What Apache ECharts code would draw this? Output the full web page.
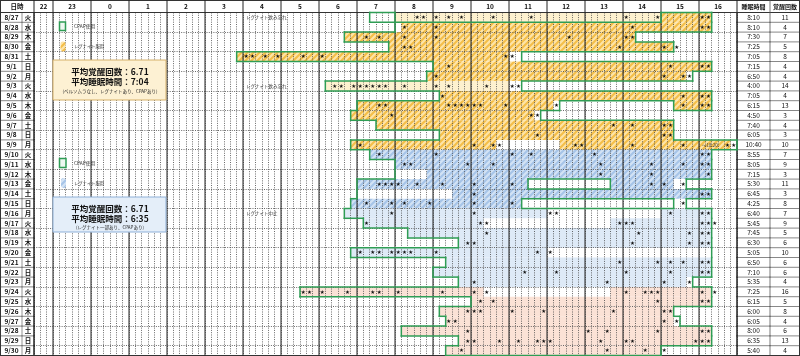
<!DOCTYPE html>
<html>
<head>
<meta charset="utf-8">
<script src="https://cdn.jsdelivr.net/npm/echarts@6/dist/echarts.min.js"></script>
<style>
  html, body { margin: 0; padding: 0; background: #fff; }
  #chart { width: 800px; height: 356px; }
</style>
</head>
<body>
<div id="chart"></div>
<script>
const dates = ['8/27','8/28','8/29','8/30','8/31','9/1','9/2','9/3','9/4','9/5','9/6','9/7','9/8','9/9',
  '9/10','9/11','9/12','9/13','9/14','9/15','9/16','9/17','9/18','9/19','9/20','9/21','9/22','9/23',
  '9/24','9/25','9/26','9/27','9/28','9/29','9/30'];
const weekdays = ['火','水','木','金','土','日','月','火','水','木','金','土','日','月',
  '火','水','木','金','土','日','月','火','水','木','金','土','日','月',
  '火','水','木','金','土','日','月'];
const hourLabels = ['22','23','0','1','2','3','4','5','6','7','8','9','10','11','12','13','14','15','16'];
const sleepTimes = ['8:10','8:10','7:30','7:25','7:05','7:15','6:50','4:00','7:05','6:15','4:50','7:40','6:05','10:40',
  '8:55','8:05','7:15','5:30','6:45','4:25','6:40','5:45','7:45','6:30','5:05','6:50','7:10','5:35',
  '7:25','6:15','6:00','6:05','8:00','6:35','5:40'];
const wakeCounts = [11,4,7,5,8,4,4,14,4,13,3,4,3,10, 7,9,3,11,3,8,7,9,5,6,10,6,6,4, 16,5,8,4,6,13,4];

// sleep segments: [row, start, end, kind]  yh=Regnite, yl=forgot, bh/bl=blue period, p=pink period
const fillSegs = [
  [0,'8:00','15:00','yl'], [0,'15:00','16:20','yh'],
  [1,'8:10','16:20','yh'], [2,'6:40','14:20','yh'], [3,'7:50','15:20','yh'],
  [4,'3:50','11:00','yh'], [5,'9:00','16:20','yh'], [6,'8:50','15:40','yh'],
  [7,'6:10','11:00','yl'], [8,'9:10','16:20','yh'],
  [9,'7:00','12:10','yh'], [9,'15:20','16:20','yh'],
  [10,'6:50','11:40','yh'], [11,'7:30','15:20','yh'], [12,'9:10','15:20','yh'],
  [13,'6:50','10:40','yh'], [13,'12:20','16:50','yh'],
  [14,'7:20','16:20','bh'], [15,'8:00','16:20','bh'], [16,'8:50','16:20','bh'],
  [17,'7:00','11:30','bh'], [17,'13:40','15:20','bh'],
  [18,'9:30','16:20','bh'], [19,'6:50','11:20','bh'],
  [20,'6:40','12:00','bl'], [20,'15:00','16:20','bl'],
  [21,'7:10','10:20','bl'], [21,'13:40','16:20','bl'],
  [22,'8:20','16:20','bl'], [23,'9:40','16:20','bl'], [24,'6:50','12:00','bl'],
  [25,'9:20','16:20','bl'], [26,'9:00','16:20','bl'], [27,'9:40','15:40','bl'],
  [28,'5:30','10:20','p'], [28,'13:40','16:20','p'],
  [29,'10:00','16:20','p'], [30,'9:10','15:20','p'], [31,'9:20','15:20','p'],
  [32,'8:10','16:20','p'], [33,'9:40','16:20','p'], [34,'9:20','15:00','p']
];

// CPAP use: [row, start, end]
const cpapSegs = [
  [0,'7:20','8:00'], [0,'15:00','16:20'], [1,'8:00','16:20'], [2,'6:40','14:20'], [3,'7:50','15:20'],
  [4,'3:50','11:20'], [5,'9:00','16:20'], [6,'8:50','15:50'], [7,'6:10','11:20'], [8,'9:10','16:20'],
  [9,'7:00','12:20'], [9,'15:20','16:20'], [10,'6:50','11:50'], [11,'7:30','15:20'], [12,'9:10','15:20'],
  [13,'6:50','17:00'], [14,'7:20','16:20'], [15,'8:00','16:20'], [16,'8:00','16:20'],
  [17,'7:00','11:30'], [17,'13:40','15:40'], [18,'7:00','16:20'],
  [19,'6:50','11:20'], [19,'15:20','15:40'], [20,'6:40','16:20'], [21,'7:10','16:20'],
  [22,'8:20','16:20'], [23,'9:40','16:20'], [24,'6:50','16:20'], [25,'9:20','16:20'],
  [26,'9:00','16:20'], [27,'9:40','15:50'], [28,'5:30','16:20'], [29,'10:00','16:20'],
  [30,'9:10','15:20'], [31,'9:20','15:30'], [32,'8:10','16:20'], [33,'9:40','16:20'], [34,'9:20','15:00']
];

// awakenings (start of the 10-minute cell holding the star)
const wakeMarks = [
  ['8:30','8:40','9:00','9:20','9:40','10:30','11:30','14:00','14:50','16:00','16:10'],
  ['8:10','9:00','14:10','16:00','16:10'],
  ['7:10','7:30','8:10','9:00','12:30','14:00','14:10'],
  ['8:10','8:20','13:50','15:00','15:20'],
  ['4:00','4:10','4:30','4:50','5:30','6:00','10:50','11:00'],
  ['9:20','15:10','16:00','16:10'],
  ['9:00','15:00','15:30','15:40'],
  ['6:20','6:30','6:50','7:00','7:10','7:20','7:30','7:40','8:10','9:00','9:20','10:20','11:00','11:10'],
  ['9:10','15:30','16:00','16:10'],
  ['7:30','7:40','9:20','9:30','9:40','9:50','10:00','10:10','10:50','12:10','15:30','16:00','16:10'],
  ['7:50','11:30','11:40'],
  ['13:40','14:10','15:00','15:10'],
  ['11:40','15:00','15:10'],
  ['7:00','10:00','10:30','10:40','12:40','12:50','14:10','15:30','16:40','16:50'],
  ['7:30','9:00','11:00','11:30','13:10','16:00','16:10'],
  ['8:10','8:20','9:50','10:30','13:20','14:40','15:30','16:00','16:10'],
  ['13:20','14:40','16:10'],
  ['7:30','7:40','7:50','8:00','8:30','9:10','10:00','11:00','14:40','15:00','15:30'],
  ['10:00','16:00','16:10'],
  ['7:10','7:50','8:10','8:50','10:00','11:00','15:30'],
  ['7:50','10:00','12:00','12:10','15:10','16:00','16:10'],
  ['7:10','10:10','10:20','13:50','14:00','14:10','16:00','16:10','16:20'],
  ['10:20','14:20','15:40','16:00','16:10'],
  ['9:50','10:00','14:10','15:40','16:00','16:10'],
  ['7:00','7:20','7:30','7:50','8:00','8:10','8:20','9:00','11:40','12:00'],
  ['13:50','14:50','15:10','15:30','16:00','16:10'],
  ['11:20','12:10','14:00','15:10','16:00','16:10'],
  ['10:00','13:30','15:00','15:40'],
  ['5:30','5:40','6:00','6:40','7:20','7:30','8:00','9:10','10:00','10:20','14:00','14:30','14:40','14:50','16:00','16:20'],
  ['10:10','10:30','14:50','16:00','16:10'],
  ['9:50','10:00','10:10','11:00','11:50','13:40','15:00','15:10'],
  ['9:20','9:30','15:00','15:20'],
  ['9:50','13:00','13:30','14:50','16:00','16:10'],
  ['9:50','10:00','10:40','11:10','11:40','11:50','12:00','13:20','14:00','14:10','15:50','16:00','16:10'],
  ['9:40','13:30','14:30','15:00']
];

const notes = [[0,'4:00','レグナイト飲み忘れ'], [7,'4:00','レグナイト飲み忘れ'], [20,'4:00','レグナイト中止'], [13,'16:00','〜18:20']];

// ---- helpers ----
const FONT = "'Noto Sans CJK JP', 'Noto Sans', sans-serif";
function toMin(t) {
  const [h, m] = t.split(':').map(Number);
  return ((h < 20 ? h + 24 : h) - 22) * 60 + m;
}
const X_MIN = toMin('22:30');
const X_MAX = toMin('17:00');
const NCELL = (X_MAX - X_MIN) / 10;
const HEAD = 12.5;

function hatch(base, stripe) {
  const s = 6;
  const c = document.createElement('canvas');
  c.width = s; c.height = s;
  const g = c.getContext('2d');
  g.fillStyle = base; g.fillRect(0, 0, s, s);
  g.strokeStyle = stripe; g.lineWidth = 2;
  g.beginPath();
  g.moveTo(-1, s + 1); g.lineTo(s + 1, -1);
  g.moveTo(-1, 1); g.lineTo(1, -1);
  g.moveTo(s - 1, s + 1); g.lineTo(s + 1, s - 1);
  g.stroke();
  return { image: c, repeat: 'repeat' };
}
const kinds = ['yh', 'yl', 'bh', 'bl', 'p'];
const kindFill = [
  hatch('#fde4a8', '#f4be48'),
  '#fdf1cf',
  hatch('#d2e2f4', '#a6c4e8'),
  '#deeaf7',
  '#fbe2d6'
];

// CPAP coverage in 10-minute cells, for the merged outline
const cover = dates.map(() => new Array(NCELL).fill(false));
cpapSegs.forEach(([r, s, e]) => {
  for (let c = (toMin(s) - X_MIN) / 10; c < (toMin(e) - X_MIN) / 10; c++) cover[r][c] = true;
});

function runs(test) {
  const out = [];
  let st = -1;
  for (let c = 0; c <= NCELL; c++) {
    const on = c < NCELL && test(c);
    if (on && st < 0) st = c;
    if (!on && st >= 0) { out.push([st, c]); st = -1; }
  }
  return out;
}
const GREEN = '#2f9d55';
function ln(x1, y1, x2, y2, stroke, w, dash) {
  return { type: 'line', shape: { x1, y1, x2, y2 }, style: { stroke, lineWidth: w, lineDash: dash || null, lineCap: 'square' } };
}
function txt(x, y, text, size, opts) {
  return { type: 'text', x, y, style: Object.assign({ text, fontSize: size, fontFamily: FONT, fill: '#111',
    align: 'center', verticalAlign: 'middle', textAlign: 'center', textVerticalAlign: 'middle' }, opts || {}) };
}

const chart = echarts.init(document.getElementById('chart'));

const dotted = { type: [1, 1.3], color: '#444', width: 0.8 };
const option = {
  animation: false,
  grid: { left: 34, right: 63, top: HEAD, bottom: 0.5 },
  xAxis: {
    type: 'value', min: X_MIN, max: X_MAX, interval: 10,
    axisLabel: { show: false }, axisTick: { show: false }, axisLine: { show: false },
    splitLine: { show: true, lineStyle: dotted }
  },
  yAxis: {
    type: 'category', data: dates, inverse: true,
    axisLabel: { show: false }, axisTick: { show: false }, axisLine: { show: false },
    splitLine: { show: true, lineStyle: dotted }
  },
  graphic: [
    { type: 'rect', z: 10, shape: { x: 59.5, y: 22, width: 6, height: 8.5 }, style: { fill: '#eef8f1', stroke: GREEN, lineWidth: 1.5 } },
    { type: 'text', z: 10, x: 74, y: 26.5, style: { text: 'CPAP使用', fontSize: 4.8, fontFamily: FONT, fill: '#333', verticalAlign: 'middle' } },
    { type: 'rect', z: 10, shape: { x: 60.5, y: 41.5, width: 5, height: 10, r: 2.5 }, style: { fill: kindFill[0] } },
    { type: 'text', z: 10, x: 74, y: 46.5, style: { text: 'レグナイト服用', fontSize: 4.3, fontFamily: FONT, fill: '#333', verticalAlign: 'middle' } },
    { type: 'rect', z: 10, shape: { x: 53, y: 60, width: 113, height: 40 }, style: { fill: '#fdf1d3', stroke: '#d6b16a', lineWidth: 1 } },
    { type: 'text', z: 10, x: 110, y: 71.5, style: { text: '平均覚醒回数：6.71', fontSize: 8.5, fontWeight: 'bold', fontFamily: FONT, fill: '#111', align: 'center', verticalAlign: 'middle' } },
    { type: 'text', z: 10, x: 110, y: 82, style: { text: '平均睡眠時間：7:04', fontSize: 8.5, fontWeight: 'bold', fontFamily: FONT, fill: '#111', align: 'center', verticalAlign: 'middle' } },
    { type: 'text', z: 10, x: 110, y: 91, style: { text: '(ベルソムラなし、レグナイトあり、CPAPあり)', fontSize: 4.5, fontFamily: FONT, fill: '#222', align: 'center', verticalAlign: 'middle' } },

    { type: 'rect', z: 10, shape: { x: 59.5, y: 158.5, width: 6.5, height: 9 }, style: { fill: '#eef8f1', stroke: GREEN, lineWidth: 1.5 } },
    { type: 'text', z: 10, x: 74, y: 163, style: { text: 'CPAP使用', fontSize: 4.8, fontFamily: FONT, fill: '#333', verticalAlign: 'middle' } },
    { type: 'rect', z: 10, shape: { x: 61, y: 178, width: 5, height: 10, r: 2.5 }, style: { fill: kindFill[2] } },
    { type: 'text', z: 10, x: 74, y: 183, style: { text: 'レグナイト服用', fontSize: 4.3, fontFamily: FONT, fill: '#333', verticalAlign: 'middle' } },
    { type: 'rect', z: 10, shape: { x: 53, y: 197, width: 113, height: 35 }, style: { fill: '#e4eef9', stroke: '#8eb0d8', lineWidth: 1 } },
    { type: 'text', z: 10, x: 110, y: 208.5, style: { text: '平均覚醒回数：6.71', fontSize: 8.5, fontWeight: 'bold', fontFamily: FONT, fill: '#111', align: 'center', verticalAlign: 'middle' } },
    { type: 'text', z: 10, x: 110, y: 219, style: { text: '平均睡眠時間：6:35', fontSize: 8.5, fontWeight: 'bold', fontFamily: FONT, fill: '#111', align: 'center', verticalAlign: 'middle' } },
    { type: 'text', z: 10, x: 110, y: 227.5, style: { text: '(レグナイト一部あり、CPAPあり)', fontSize: 4.5, fontFamily: FONT, fill: '#222', align: 'center', verticalAlign: 'middle' } }
  ],
  series: [
    // sleep fills, under the dotted grid
    {
      type: 'custom', z: -1, silent: true, clip: false,
      data: fillSegs.map(s => [toMin(s[1]), toMin(s[2]), s[0], kinds.indexOf(s[3])]),
      encode: { x: [0, 1], y: 2 },
      renderItem(params, api) {
        const p0 = api.coord([api.value(0), api.value(2)]);
        const p1 = api.coord([api.value(1), api.value(2)]);
        const h = api.size([0, 1])[1];
        return { type: 'rect', shape: { x: p0[0], y: p0[1] - h / 2, width: p1[0] - p0[0], height: h },
          style: { fill: kindFill[api.value(3)] } };
      }
    },
    // CPAP merged outline
    {
      type: 'custom', z: 5, silent: true, clip: false,
      data: dates.map((d, i) => [X_MIN, i]),
      encode: { x: 0, y: 1 },
      renderItem(params, api) {
        const r = params.dataIndex;
        const h = api.size([0, 1])[1];
        const yc = api.coord([X_MIN, r])[1];
        const top = yc - h / 2, bot = yc + h / 2;
        const xOf = c => api.coord([X_MIN + c * 10, r])[0];
        const row = cover[r];
        const prev = r > 0 ? cover[r - 1] : null;
        const kids = [];
        for (let c = 0; c <= NCELL; c++) {
          const a = c > 0 && row[c - 1];
          const b = c < NCELL && row[c];
          if (a !== b) kids.push(ln(xOf(c), top, xOf(c), bot, GREEN, 1.5));
        }
        runs(c => row[c] !== (prev ? prev[c] : false)).forEach(([a, b]) => kids.push(ln(xOf(a), top, xOf(b), top, GREEN, 1.5)));
        if (r === dates.length - 1) runs(c => row[c]).forEach(([a, b]) => kids.push(ln(xOf(a), bot, xOf(b), bot, GREEN, 1.5)));
        return { type: 'group', children: kids };
      }
    },
    // awakenings
    {
      type: 'custom', z: 6, silent: true, clip: false,
      data: wakeMarks.flatMap((list, r) => list.map(t => [toMin(t) + 5, r])),
      encode: { x: 0, y: 1 },
      renderItem(params, api) {
        const p = api.coord([api.value(0), api.value(1)]);
        return txt(p[0], p[1] + 0.3, '★', 5.5, { fontFamily: "'DejaVu Sans', sans-serif" });
      }
    },
    // row notes
    {
      type: 'custom', z: 6, silent: true, clip: false,
      data: notes.map(n => [toMin(n[1]), n[0]]),
      encode: { x: 0, y: 1 },
      renderItem(params, api) {
        const p = api.coord([api.value(0), api.value(1)]);
        return txt(p[0] + 3, p[1], notes[params.dataIndex][2], 4.5, { align: 'left', textAlign: 'left', fill: '#333' });
      }
    },
    // left and right table columns
    {
      type: 'custom', z: 4, silent: true, clip: false,
      data: dates.map((d, i) => [X_MIN, i]),
      encode: { x: 0, y: 1 },
      renderItem(params, api) {
        const r = params.dataIndex;
        const h = api.size([0, 1])[1];
        const yc = api.coord([X_MIN, r])[1];
        const top = yc - h / 2, bot = yc + h / 2;
        const gl = api.coord([X_MIN, r])[0];
        const gr = api.coord([X_MAX, r])[0];
        const W = api.getWidth();
        const split = 22, rsplit = gr + 33;
        const kids = [
          ln(0.5, top, 0.5, bot, '#333', 1),
          ln(split, top, split, bot, '#666', 0.7),
          ln(gl, top, gl, bot, '#222', 1),
          ln(gr, top, gr, bot, '#222', 1),
          ln(rsplit, top, rsplit, bot, '#555', 0.8),
          ln(W - 0.5, top, W - 0.5, bot, '#333', 1),
          ln(0, bot, gl, bot, '#555', 0.7),
          ln(gr, bot, W, bot, '#555', 0.7),
          txt(split / 2 + 0.5, yc, dates[r], 6.5, { fontWeight: 'bold' }),
          txt((split + gl) / 2, yc, weekdays[r], 6.5, { fontWeight: 'bold' }),
          txt((gr + rsplit) / 2, yc, sleepTimes[r], 6.5),
          txt((rsplit + W) / 2, yc, String(wakeCounts[r]), 6.5)
        ];
        return { type: 'group', children: kids };
      }
    },
    // header row and hour boundaries
    {
      type: 'custom', z: 4, silent: true, clip: false,
      data: [[X_MIN, 0]],
      encode: { x: 0, y: 1 },
      renderItem(params, api) {
        const h = api.size([0, 1])[1];
        const last = dates.length - 1;
        const gtop = api.coord([X_MIN, 0])[1] - h / 2;
        const gbot = api.coord([X_MIN, last])[1] + h / 2;
        const gl = api.coord([X_MIN, 0])[0];
        const gr = api.coord([X_MAX, 0])[0];
        const W = api.getWidth();
        const hy = gtop / 2;
        const rsplit = gr + 33;
        const kids = [
          ln(0, 0.5, W, 0.5, '#333', 1),
          ln(0, gtop, W, gtop, '#333', 1),
          ln(0.5, 0, 0.5, gtop, '#333', 1),
          ln(gl, 0, gl, gbot, '#222', 1),
          ln(rsplit, 0, rsplit, gtop, '#555', 0.8),
          ln(W - 0.5, 0, W - 0.5, gtop, '#333', 1),
          ln(0, gbot, W, gbot, '#333', 1),
          txt(gl / 2, hy, '日時', 6.5, { fontWeight: 'bold' }),
          txt((gr + rsplit) / 2, hy, '睡眠時間', 6, { fontWeight: 'bold' }),
          txt((rsplit + W) / 2, hy, '覚醒回数', 6, { fontWeight: 'bold' })
        ];
        hourLabels.forEach(lab => {
          const s = Math.max(toMin(lab + ':00'), X_MIN);
          const e = toMin(lab + ':00') + 60;
          const xs = api.coord([s, 0])[0];
          const xe = api.coord([e, 0])[0];
          kids.push(ln(xe, 0, xe, gbot, '#222', 1));
          kids.push(txt((xs + xe) / 2, hy, lab, 6.5, { fontWeight: 'bold' }));
        });
        return { type: 'group', children: kids };
      }
    }
  ]
};
chart.setOption(option);
</script>
</body>
</html>
